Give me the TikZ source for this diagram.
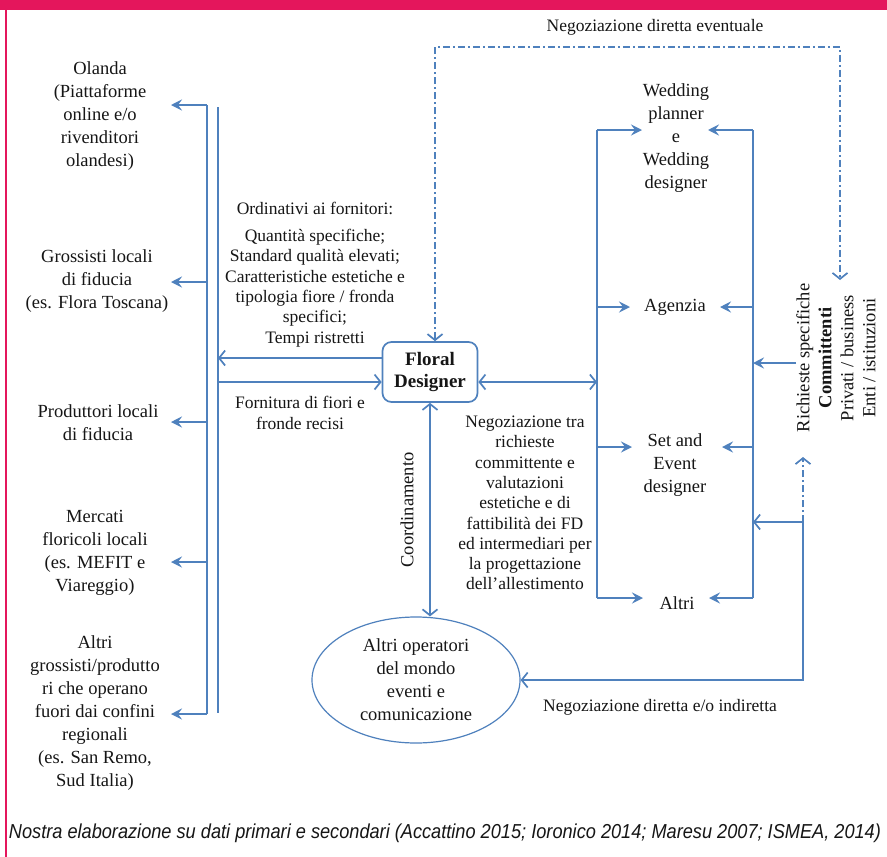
\documentclass[tikz,border=0pt]{standalone}
\usepackage{fontspec}
\setmainfont{Liberation Serif}
\newfontfamily\capfont[FakeStretch=0.9]{Liberation Sans}
\usetikzlibrary{arrows.meta,shapes.geometric,positioning,calc}
\definecolor{lineblue}{RGB}{79,129,189}
\definecolor{magbar}{RGB}{228,22,92}
\definecolor{txtgray}{RGB}{22,22,22}

\begin{document}
\begin{tikzpicture}[x=1pt,y=-1pt,
  bline/.style={draw=lineblue,line width=1.7pt},
  sarrow/.style={bline,-{Stealth[length=11pt,width=11pt,inset=4pt]}},
  barb/.style={bline,-{Straight Barb[length=6pt,width=15pt]}},
  dbarb/.style={bline,{Straight Barb[length=6pt,width=15pt]}-{Straight Barb[length=6pt,width=15pt]}},
  dashdot/.style={dash pattern=on 7pt off 3pt on 2pt off 3pt},
  bigtxt/.style={align=center,inner sep=0pt,text=txtgray,font=\fontsize{18.5}{23}\selectfont},
  smalltxt/.style={align=center,inner sep=0pt,text=txtgray,font=\fontsize{17.5}{20.3}\selectfont}]
    \useasboundingbox (0,0) rectangle (887,857);
    \fill[white] (0,0) rectangle (887,857);
    % frame
    \fill[magbar] (0,0) rectangle (887,10);
    \fill[magbar] (5,0) rectangle (7,857);

    % suppliers
    \node[bigtxt] (olanda) at (100,116) {Olanda\\(Piattaforme\\online e/o\\rivenditori\\olandesi)};
    \node[bigtxt] (grossisti) at (97,281) {Grossisti locali\\di fiducia\\(es. Flora Toscana)};
    \node[bigtxt] (produttori) at (98,423) {Produttori locali\\di fiducia};
    \node[bigtxt] (mercati) at (95,553) {Mercati\\floricoli locali\\(es. MEFIT e\\Viareggio)};
    \node[bigtxt] (altrigr) at (95,713) {Altri\\grossisti/produtto\\ri che operano\\fuori dai confini\\regionali\\(es. San Remo,\\Sud Italia)};

    \coordinate (busA) at (207,105);
    \coordinate (busB) at (207,714);
    \coordinate (busC) at (218,107);
    \coordinate (busD) at (218,713);
    \draw[bline] (busA) -- (busB);
    \draw[bline] (busC) -- (busD);
    \foreach \y/\n in {105/ol,282/gr,422/pr,562/me,714/al} {
        \coordinate (s\n) at (171,\y);
        \draw[sarrow] (busA |- s\n) -- (s\n);
    }

    % floral designer
    \node[draw=lineblue,line width=1.7pt,rounded corners=9pt,minimum width=95pt,minimum height=60pt,
          align=center,text=txtgray,font=\bfseries\fontsize{19}{22}\selectfont] (fd) at (430,372) {Floral\\Designer};
    \draw[barb] ([yshift=14pt]fd.west) -- ([yshift=14pt]fd.west -| busC);
    \draw[barb] ([yshift=-10pt]fd.west -| busC) -- ([yshift=-10pt]fd.west);

    \node[smalltxt] (ordin) at (315,208) {Ordinativi ai fornitori:};
    \node[smalltxt] (ordlist) at (315,288) {Quantità specifiche;\\Standard qualità elevati;\\Caratteristiche estetiche e\\tipologia fiore / fronda\\specifici;\\Tempi ristretti};
    \node[smalltxt] (fornit) at (300,413) {Fornitura di fiori e\\fronde recisi};

    % intermediaries
    \node[bigtxt] (wedding) at (676,138) {Wedding\\planner\\e\\Wedding\\designer};
    \node[bigtxt] (agenzia) at (675,307) {Agenzia};
    \node[bigtxt] (setevent) at (675,465) {Set and\\Event\\designer};
    \node[bigtxt] (altri) at (677,603) {Altri};

    \coordinate (rlA) at (597,130);
    \coordinate (rlB) at (597,598);
    \coordinate (rrA) at (753,130);
    \coordinate (rrB) at (753,598);
    \draw[bline] (rlA) -- (rlB);
    \draw[bline] (rrA) -- (rrB);
    \foreach \y/\xl/\xr/\n in {130/642/708/we,307/630/720/ag,447/632/722/se,598/643/709/al} {
        \coordinate (l\n) at (\xl,\y);
        \coordinate (r\n) at (\xr,\y);
        \draw[sarrow] (rlA |- l\n) -- (l\n);
        \draw[sarrow] (rrA |- r\n) -- (r\n);
    }
    \draw[dbarb] ([yshift=-10pt]fd.east) -- ([yshift=-10pt]fd.east -| rlA);

    \node[smalltxt] (negtra) at (525,503) {Negoziazione tra\\richieste\\committente e\\valutazioni\\estetiche e di\\fattibilità dei FD\\ed intermediari per\\la progettazione\\dell'allestimento};

    % clients
    \node[bigtxt,rotate=90,font=\fontsize{18.5}{22}\selectfont] (comm) at (836,358)
        {Richieste specifiche\\\textbf{Committenti}\\Privati / business\\Enti / istituzioni};
    \draw[sarrow] ([yshift=-5pt]comm.north) -- ([yshift=-5pt]comm.north -| rrA);
    \coordinate (cj) at (803,522);
    \coordinate (cup) at (803,457);
    \draw[barb] (cj) -- (cj -| rrA);
    \draw[barb,dashdot] (cj) -- (cup);

    % other operators
    \node[ellipse,draw=lineblue,line width=1.2pt,bigtxt,minimum width=208pt,minimum height=126pt] (altriop) at (416,680)
        {Altri operatori\\del mondo\\eventi e\\comunicazione};
    \draw[barb] (cj) |- (altriop.east);
    \draw[dbarb] (fd.south) -- (fd.south |- altriop.north);
    \node[bigtxt,rotate=90] (coordin) at (407,510) {Coordinamento};
    \node[smalltxt] (negind) at (660,707) {Negoziazione diretta e/o indiretta};

    % direct negotiation
    \coordinate (dA) at (435,47);
    \coordinate (dB) at (840,47);
    \coordinate (dC) at (840,280);
    \draw[dbarb,dashdot] ([xshift=5pt]fd.north) -- (dA) -- (dB) -- (dC);
    \node[smalltxt] (negev) at (655,27) {Negoziazione diretta eventuale};

    \node[inner sep=0pt,text=txtgray,font=\capfont\itshape\fontsize{20.2}{23}\selectfont] (capt) at (445,833)
        {Nostra elaborazione su dati primari e secondari (Accattino 2015; Ioronico 2014; Maresu 2007; ISMEA, 2014)};
\end{tikzpicture}
\end{document}
